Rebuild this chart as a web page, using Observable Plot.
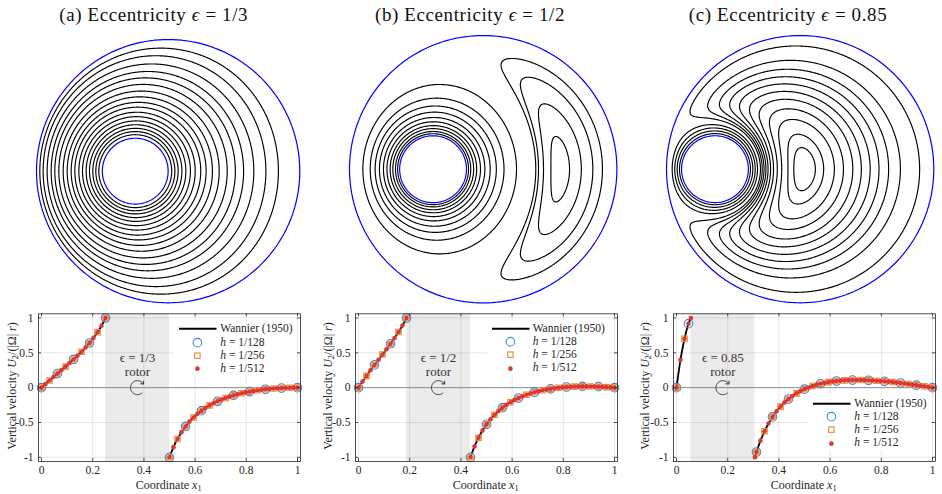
<!DOCTYPE html>
<html>
<head>
<meta charset="utf-8">
<script src="https://cdn.jsdelivr.net/npm/d3@7"></script>
<script src="https://cdn.jsdelivr.net/npm/@observablehq/plot@0.6"></script>
<style>
  html, body { margin: 0; padding: 0; background: #fff; }
  #page { position: relative; width: 942px; height: 494px; overflow: hidden;
          font-family: "Liberation Serif", "DejaVu Serif", serif; color: #262626; }
  .abs { position: absolute; }
  .title { font-size: 19px; letter-spacing: 0.6px; color: #111; white-space: nowrap; transform: translateX(-50%); line-height: 1; }
  .xlabel { font-size: 12px; white-space: nowrap; transform: translate(-50%, -50%); line-height: 1; }
  .ylabel { font-size: 12px; white-space: nowrap; transform: translate(-50%, -50%) rotate(-90deg); line-height: 1; }
  .legend { background: #fff; font-size: 11.5px; line-height: 1; }
  sub { font-size: 0.7em; vertical-align: -0.25em; line-height: 0; }
</style>
</head>
<body>
<div id="page"></div>
<script>
// Journal bearing: unit outer diameter (x1 from 0 to 1), rotor radius 1/8
const eccentricities = [1 / 3, 1 / 2, 0.85];
const eccentricityLabels = ["1/3", "1/2", "0.85"];
const panelTags = ["(a)", "(b)", "(c)"];
const outerRadius = 0.5;
const rotorRadius = 0.125;

// x1 positions on the line of centres through which each drawn streamline passes
const streamlineCrossingsA = [0.0127, 0.0253, 0.0405, 0.0557, 0.0696, 0.0848, 0.1013, 0.1165, 0.1317,
  0.1456, 0.1608, 0.1747, 0.1886, 0.2013, 0.2139, 0.2253, 0.2367];
const streamlineCrossingsB = [0.050, 0.0775, 0.096, 0.112, 0.127, 0.140, 0.152, 0.162, 0.172, 0.180,
  0.823, 0.867, 0.910, 0.946];
const streamlineCrossingsC = [0.0213, 0.031, 0.040, 0.0486,
  0.557, 0.588, 0.628, 0.662, 0.697, 0.729, 0.762, 0.795, 0.831, 0.875, 0.947];

// Vertical velocity U2/(|Omega| r) along the line of centres.
// Finest samples (h = 1/512); the Wannier (1950) profile runs through the same values.
const xFineA = [0, 0.0156, 0.0313, 0.0469, 0.0625, 0.0781, 0.0938, 0.1094, 0.125, 0.1406, 0.1563, 0.1719,
  0.1875, 0.2031, 0.2188, 0.2344, 0.25,
  0.5, 0.5156, 0.5313, 0.5469, 0.5625, 0.5781, 0.5938, 0.6094, 0.625, 0.6406, 0.6563, 0.6719, 0.6875,
  0.7031, 0.7188, 0.7344, 0.75, 0.7656, 0.7813, 0.7969, 0.8125, 0.8281, 0.8438, 0.8594, 0.875, 0.8906,
  0.9063, 0.9219, 0.9375, 0.9531, 0.9688, 0.9844, 1];
const uFineA = [0, 0.052, 0.103, 0.153, 0.202, 0.252, 0.302, 0.353, 0.405, 0.459, 0.515, 0.576, 0.641,
  0.714, 0.795, 0.889, 1,
  -1, -0.854, -0.736, -0.639, -0.557, -0.487, -0.428, -0.376, -0.330, -0.290, -0.255, -0.224, -0.196,
  -0.171, -0.149, -0.129, -0.111, -0.095, -0.081, -0.068, -0.057, -0.047, -0.038, -0.030, -0.023, -0.018,
  -0.013, -0.009, -0.006, -0.003, -0.002, 0, 0];
const xMidA = [0, 0.0313, 0.0625, 0.0938, 0.125, 0.1563, 0.1875, 0.2188, 0.25,
  0.5, 0.5313, 0.5625, 0.5938, 0.625, 0.6563, 0.6875, 0.7188, 0.75, 0.7813, 0.8125, 0.8438, 0.875,
  0.9063, 0.9375, 0.9688, 1];
const uMidA = [0, 0.103, 0.202, 0.302, 0.405, 0.515, 0.641, 0.795, 1,
  -1, -0.736, -0.557, -0.428, -0.330, -0.255, -0.196, -0.149, -0.111, -0.081, -0.057, -0.038, -0.023,
  -0.013, -0.006, -0.002, 0];
const xCoarseA = [0, 0.0625, 0.125, 0.1875, 0.25, 0.5, 0.5625, 0.625, 0.6875, 0.75, 0.8125, 0.875, 0.9375, 1];
const uCoarseA = [0, 0.202, 0.405, 0.641, 1, -1, -0.557, -0.330, -0.196, -0.111, -0.057, -0.023, -0.006, 0];

const xFineB = [0, 0.0156, 0.0313, 0.0469, 0.0625, 0.0781, 0.0938, 0.1094, 0.125, 0.1406, 0.1563, 0.1719, 0.1875,
  0.4375, 0.4531, 0.4688, 0.4844, 0.5, 0.5156, 0.5313, 0.5469, 0.5625, 0.5781, 0.5938, 0.6094, 0.625,
  0.6406, 0.6563, 0.6719, 0.6875, 0.7031, 0.7188, 0.7344, 0.75, 0.7656, 0.7813, 0.7969, 0.8125, 0.8281,
  0.8438, 0.8594, 0.875, 0.8906, 0.9063, 0.9219, 0.9375, 0.9531, 0.9688, 0.9844, 1];
const uFineB = [0, 0.087, 0.169, 0.249, 0.326, 0.401, 0.476, 0.552, 0.630, 0.711, 0.798, 0.893, 1,
  -1, -0.844, -0.718, -0.614, -0.527, -0.453, -0.390, -0.335, -0.287, -0.246, -0.209, -0.177, -0.149,
  -0.124, -0.102, -0.083, -0.066, -0.051, -0.038, -0.027, -0.017, -0.009, -0.002, 0.004, 0.009, 0.012,
  0.015, 0.017, 0.018, 0.018, 0.017, 0.016, 0.014, 0.011, 0.008, 0.004, 0];
const xMidB = [0, 0.0313, 0.0625, 0.0938, 0.125, 0.1563, 0.1875,
  0.4375, 0.4688, 0.5, 0.5313, 0.5625, 0.5938, 0.625, 0.6563, 0.6875, 0.7188, 0.75, 0.7813, 0.8125,
  0.8438, 0.875, 0.9063, 0.9375, 0.9688, 1];
const uMidB = [0, 0.169, 0.326, 0.476, 0.630, 0.798, 1,
  -1, -0.718, -0.527, -0.390, -0.287, -0.209, -0.149, -0.102, -0.066, -0.038, -0.017, -0.002, 0.009,
  0.015, 0.018, 0.017, 0.014, 0.008, 0];
const xCoarseB = [0, 0.0625, 0.125, 0.1875, 0.4375, 0.5, 0.5625, 0.625, 0.6875, 0.75, 0.8125, 0.875, 0.9375, 1];
const uCoarseB = [0, 0.326, 0.630, 1, -1, -0.527, -0.287, -0.149, -0.066, -0.017, 0.009, 0.018, 0.014, 0];

const xFineC = [0, 0.0156, 0.0313, 0.0469, 0.0563,
  0.3063, 0.3125, 0.3281, 0.3438, 0.3594, 0.375, 0.3906, 0.4063, 0.4219, 0.4375, 0.4531, 0.4688, 0.4844,
  0.5, 0.5156, 0.5313, 0.5469, 0.5625, 0.5781, 0.5938, 0.6094, 0.625, 0.6406, 0.6563, 0.6719, 0.6875,
  0.7031, 0.7188, 0.7344, 0.75, 0.7656, 0.7813, 0.7969, 0.8125, 0.8281, 0.8438, 0.8594, 0.875, 0.8906,
  0.9063, 0.9219, 0.9375, 0.9531, 0.9688, 0.9844, 1];
const uFineC = [0, 0.399, 0.702, 0.918, 1,
  -1, -0.924, -0.761, -0.626, -0.514, -0.420, -0.340, -0.272, -0.213, -0.163, -0.120, -0.082, -0.050,
  -0.022, 0.002, 0.023, 0.041, 0.056, 0.069, 0.079, 0.088, 0.095, 0.101, 0.105, 0.108, 0.109,
  0.110, 0.110, 0.108, 0.106, 0.103, 0.100, 0.096, 0.091, 0.086, 0.080, 0.074, 0.067, 0.060,
  0.052, 0.044, 0.036, 0.027, 0.019, 0.009, 0];
const xMidC = [0, 0.0313, 0.3125, 0.3438, 0.375, 0.4063, 0.4375, 0.4688, 0.5, 0.5313, 0.5625, 0.5938,
  0.625, 0.6563, 0.6875, 0.7188, 0.75, 0.7813, 0.8125, 0.8438, 0.875, 0.9063, 0.9375, 0.9688, 1];
const uMidC = [0, 0.702, -0.924, -0.626, -0.420, -0.272, -0.163, -0.082, -0.022, 0.023, 0.056, 0.079,
  0.095, 0.105, 0.109, 0.110, 0.106, 0.100, 0.091, 0.080, 0.067, 0.052, 0.036, 0.019, 0];
const xCoarseC = [0, 0.0469, 0.3125, 0.375, 0.4375, 0.5, 0.5625, 0.625, 0.6875, 0.75, 0.8125, 0.875, 0.9375, 1];
const uCoarseC = [0, 0.918, -0.924, -0.420, -0.163, -0.022, 0.056, 0.095, 0.109, 0.106, 0.091, 0.067, 0.036, 0];

const xTicks = [0, 0.2, 0.4, 0.6, 0.8, 1];
const yTicks = [-1, -0.5, 0, 0.5, 1];
const legendLabels = ["Wannier (1950)", "1/128", "1/256", "1/512"];

const crossings = [streamlineCrossingsA, streamlineCrossingsB, streamlineCrossingsC];
const profiles = [
  {fine: [xFineA, uFineA], mid: [xMidA, uMidA], coarse: [xCoarseA, uCoarseA]},
  {fine: [xFineB, uFineB], mid: [xMidB, uMidB], coarse: [xCoarseB, uCoarseB]},
  {fine: [xFineC, uFineC], mid: [xMidC, uMidC], coarse: [xCoarseC, uCoarseC]}
];
const pairs = ([xs, us]) => xs.map((x, i) => ({x, y: us[i]}));

// ---------- Wannier (1950) stream function for a rotor in an eccentric annulus ----------
function lstsq(A, b) {
  const m = A.length, n = A[0].length;
  const scale = Array.from({length: n}, (_, j) => Math.hypot(...A.map(r => r[j])) || 1);
  const M = A.map((row, i) => [...row.map((v, j) => v / scale[j]), b[i]]);
  for (let k = 0; k < n; k++) {
    let norm = 0;
    for (let i = k; i < m; i++) norm += M[i][k] ** 2;
    norm = Math.sqrt(norm);
    const alpha = M[k][k] > 0 ? -norm : norm;
    const v = new Array(m).fill(0);
    for (let i = k; i < m; i++) v[i] = M[i][k];
    v[k] -= alpha;
    let vn = 0;
    for (let i = k; i < m; i++) vn += v[i] ** 2;
    if (vn === 0) continue;
    for (let j = k; j <= n; j++) {
      let s = 0;
      for (let i = k; i < m; i++) s += v[i] * M[i][j];
      s = 2 * s / vn;
      for (let i = k; i < m; i++) M[i][j] -= s * v[i];
    }
  }
  const x = new Array(n).fill(0);
  for (let k = n - 1; k >= 0; k--) {
    let s = M[k][n];
    for (let j = k + 1; j < n; j++) s -= M[k][j] * x[j];
    x[k] = s / M[k][k];
  }
  return x.map((v, j) => v / scale[j]);
}

function wannierField(eps) {
  const R = outerRadius, r = rotorRadius;
  const a1 = 0.5, a2 = 0.5 - eps * (R - r);
  // common inverse points (bipolar foci) of both circles
  const m = (a1 + a2) / 2 + (R * R - r * r) / (2 * (a2 - a1));
  const c = Math.sqrt((a2 - m) ** 2 - r * r);
  const c2 = c * c, c4 = c2 * c2;
  const basis = (x, y) => {
    const X = x - m, Y = y;
    const Kp = (X + c) ** 2 + Y * Y, Km = (X - c) ** 2 + Y * Y;
    const al = 0.5 * Math.log(Kp / Km);
    const r2 = X * X + Y * Y, P = Kp * Km;
    return [1, X, r2, X * al, al, X * X * (r2 - c2) / P, X * (r2 * r2 - c4) / P];
  };
  const h = 1e-6;
  const dn = (x, y, nx, ny) => {
    const p = basis(x + h * nx, y + h * ny), q = basis(x - h * nx, y - h * ny);
    return p.map((v, i) => (v - q[i]) / (2 * h));
  };
  // no slip on the still outer wall, clockwise rigid rotation of the rotor
  const rows = [], rhs = [];
  const N = 72;
  for (let k = 0; k < N; k++) {
    const t = 2 * Math.PI * (k + 0.5) / N, ct = Math.cos(t), st = Math.sin(t);
    let x = a1 + R * ct, y = R * st;
    rows.push([...basis(x, y), 0]); rhs.push(0);
    rows.push([...dn(x, y, ct, st), 0]); rhs.push(0);
    x = a2 + r * ct; y = r * st;
    rows.push([...basis(x, y), -1]); rhs.push(0);
    rows.push([...dn(x, y, ct, st), 0]); rhs.push(r);
  }
  const sol = lstsq(rows, rhs);
  const coef = sol.slice(0, 7), Q = sol[7];
  const raw = (x, y) => basis(x, y).reduce((s, v, j) => s + v * coef[j], 0);
  const psi = (x, y) => {
    if ((x - a1) ** 2 + y * y >= R * R) return 0;
    if ((x - a2) ** 2 + y * y <= r * r) return Q;
    return raw(x, y);
  };
  return {psi, raw, rotorCenter: a2, rotorLeft: a2 - r, rotorRight: a2 + r};
}

function contourRings(field, levels, n) {
  const vals = new Float64Array(n * n);
  for (let j = 0; j < n; j++)
    for (let i = 0; i < n; i++)
      vals[i + j * n] = field.psi((i + 0.5) / n, -0.5 + (j + 0.5) / n);
  const out = [];
  let id = 0;
  for (const t of levels) {
    const s = t < 0 ? -1 : 1;
    const sv = vals.map(v => s * v);
    const geom = d3.contours().size([n, n]).thresholds([s * t])(sv)[0];
    for (const poly of geom.coordinates) for (const ring of poly) {
      id++;
      for (const [gx, gy] of ring) out.push({x: gx / n, y: -0.5 + gy / n, id});
    }
  }
  return out;
}

function circlePoints(cx, radius, id) {
  return d3.range(0, 361, 2).map(a => ({x: cx + radius * Math.cos(a * Math.PI / 180), y: radius * Math.sin(a * Math.PI / 180), id}));
}

// ---------- page layout ----------
const page = document.getElementById("page");
const circleBoxes = [[36, 39.3, 263.3], [349.3, 35, 267.4], [666, 35, 267.3]];
const titleCenters = [153.7, 470, 788];
const plotZeroPx = [40.7, 357.7, 675.7];
const unitPx = 256;
const frameTop = 313.3, frameBottom = 461;
const yDomain = [-1.06, 1.06];
const xPad = 3 / unitPx;
const xDomain = [-xPad, 1 + xPad];
const legendAnchors = [[179.3, 330], [491.7, 329.3], [813.3, 404.3]];
const yLabelX = [11.7, 328.3, 645];
const blue = "#3b87e0", orange = "#ec8a2c", red = "#e03535";

eccentricities.forEach((eps, p) => {
  const field = wannierField(eps);

  const title = document.createElement("div");
  title.className = "abs title";
  title.style.left = titleCenters[p] + "px";
  title.style.top = "5px";
  title.innerHTML = `${panelTags[p]} Eccentricity <i>ϵ</i> = ${eccentricityLabels[p]}`;
  page.appendChild(title);

  // streamlines
  const levels = crossings[p].map(x => field.raw(x, 0));
  const lines = contourRings(field, levels, 320);
  const walls = [...circlePoints(0.5, outerRadius, 0), ...circlePoints(field.rotorCenter, rotorRadius, 1)];
  const [bx, by, bs] = circleBoxes[p];
  const pad = 2;
  const top = Plot.plot({
    width: bs + 2 * pad, height: bs + 2 * pad, margin: pad,
    x: {domain: [0, 1], axis: null},
    y: {domain: [-0.5, 0.5], axis: null},
    marks: [
      Plot.line(lines, {x: "x", y: "y", z: "id", stroke: "#000", strokeWidth: 1.15}),
      Plot.line(walls, {x: "x", y: "y", z: "id", stroke: "#0000ff", strokeWidth: 1.2})
    ]
  });
  top.style.position = "absolute";
  top.style.left = (bx - pad) + "px";
  top.style.top = (by - pad) + "px";
  page.appendChild(top);

  // velocity profile
  const fine = pairs(profiles[p].fine).map(d => ({...d, seg: d.x < field.rotorCenter ? 0 : 1}));
  const mid = pairs(profiles[p].mid);
  const coarse = pairs(profiles[p].coarse);

  const mL = 38, mR = 10;
  const x0 = plotZeroPx[p] - xPad * unitPx - mL;
  const yPx = (frameBottom - frameTop) / (yDomain[1] - yDomain[0]);
  const tickY = 3 / yPx, tickX = 3 / unitPx;
  const cx = (field.rotorLeft + field.rotorRight) / 2;
  const arc = d3.range(-50, -321, -5).map(a => ({x: cx + 7 / unitPx * Math.cos(a * Math.PI / 180), y: 7 / yPx * Math.sin(a * Math.PI / 180)}));
  const bottom = Plot.plot({
    width: mL + unitPx * (1 + 2 * xPad) + mR, height: 189,
    marginLeft: mL, marginRight: mR, marginTop: frameTop - 305, marginBottom: 189 - (frameBottom - 305),
    style: {fontFamily: "Liberation Serif, DejaVu Serif, serif", fontSize: "11.5px", color: "#262626"},
    x: {domain: xDomain, axis: null},
    y: {domain: yDomain, axis: null},
    marks: [
      Plot.rect([0], {x1: field.rotorLeft, x2: field.rotorRight, y1: yDomain[0], y2: yDomain[1], fill: "#ebebeb"}),
      Plot.ruleX(xTicks, {stroke: "#000", strokeOpacity: 0.12, strokeWidth: 0.8}),
      Plot.ruleY(yTicks.filter(d => d !== 0), {stroke: "#000", strokeOpacity: 0.12, strokeWidth: 0.8}),
      Plot.ruleY([0], {stroke: "#8a8a8a", strokeWidth: 1}),
      Plot.text([0], {x: cx, y: 0.43, text: () => `ϵ = ${eccentricityLabels[p]}`, fontSize: 13, fill: "#333"}),
      Plot.text([0], {x: cx, y: 0.23, text: () => "rotor", fontSize: 13, fill: "#333"}),
      Plot.line(arc, {x: "x", y: "y", stroke: "#333", strokeWidth: 1, markerEnd: "arrow"}),
      Plot.line(fine, {x: "x", y: "y", z: "seg", stroke: "#000", strokeWidth: 1.8, curve: "catmull-rom"}),
      Plot.dot(coarse, {x: "x", y: "y", r: 4.3, stroke: blue, strokeWidth: 1.1, fill: "none"}),
      Plot.dot(mid, {x: "x", y: "y", symbol: "square", r: 3.1, stroke: orange, strokeWidth: 1.1, fill: "none"}),
      Plot.dot(fine, {x: "x", y: "y", r: 2.3, fill: red, stroke: "none"}),
      Plot.ruleX(xTicks, {y1: yDomain[0], y2: yDomain[0] + tickY, stroke: "#262626", strokeWidth: 0.8}),
      Plot.ruleX(xTicks, {y1: yDomain[1] - tickY, y2: yDomain[1], stroke: "#262626", strokeWidth: 0.8}),
      Plot.ruleY(yTicks, {x1: xDomain[0], x2: xDomain[0] + tickX, stroke: "#262626", strokeWidth: 0.8}),
      Plot.ruleY(yTicks, {x1: xDomain[1] - tickX, x2: xDomain[1], stroke: "#262626", strokeWidth: 0.8}),
      Plot.axisX(xTicks, {tickSize: 0, tickPadding: 4, tickFormat: d => String(d), fontSize: 11.5, label: null}),
      Plot.axisY(yTicks, {tickSize: 0, tickPadding: 5, tickFormat: d => String(d), fontSize: 11.5, label: null}),
      Plot.frame({stroke: "#262626", strokeWidth: 0.8})
    ]
  });
  bottom.style.position = "absolute";
  bottom.style.left = x0 + "px";
  bottom.style.top = "305px";
  page.appendChild(bottom);

  const xl = document.createElement("div");
  xl.className = "abs xlabel";
  xl.style.left = (plotZeroPx[p] + unitPx / 2) + "px";
  xl.style.top = "484.5px";
  xl.innerHTML = "Coordinate <i>x</i><sub>1</sub>";
  page.appendChild(xl);
  const yl = document.createElement("div");
  yl.className = "abs ylabel";
  yl.style.left = yLabelX[p] + "px";
  yl.style.top = "386px";
  yl.innerHTML = "Vertical velocity <i>U</i><sub>2</sub>/(|Ω| <i>r</i>)";
  page.appendChild(yl);

  // legend
  const [lx, ly] = legendAnchors[p];
  const lg = document.createElement("div");
  lg.className = "abs legend";
  lg.style.left = (lx - 5) + "px";
  lg.style.top = (ly - 7.65) + "px";
  const rowH = 13.3;
  const sym = [
    `<line x1="0" x2="37.5" y1="6.65" y2="6.65" stroke="#000" stroke-width="2"/>`,
    `<circle cx="18.4" cy="6.65" r="4.3" fill="none" stroke="${blue}" stroke-width="1.1"/>`,
    `<rect x="15.7" y="3.95" width="5.4" height="5.4" fill="none" stroke="${orange}" stroke-width="1.1"/>`,
    `<circle cx="18.4" cy="6.65" r="2.3" fill="${red}"/>`
  ];
  lg.innerHTML = legendLabels.map((t, i) =>
    `<div style="display:flex;align-items:center;height:${rowH}px;padding:0 4px 0 5px">` +
    `<svg width="41" height="${rowH}" style="flex:none">${sym[i]}</svg>` +
    `<span>${i === 0 ? t : `<i>h</i> = ${t}`}</span></div>`).join("");
  page.appendChild(lg);
});
</script>
</body>
</html>
